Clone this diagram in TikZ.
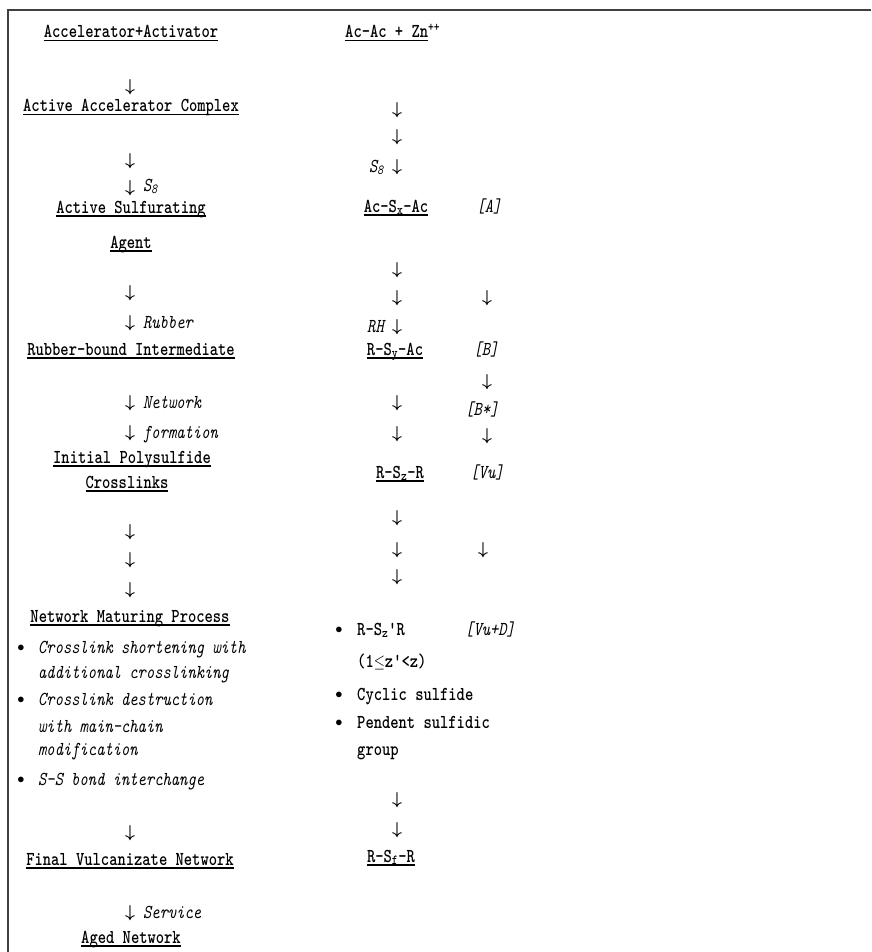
\documentclass[tikz,border=0pt]{standalone}
\newcommand\ulx[1]{\setbox0\hbox{#1}\rlap{\rule[-2.8pt]{\wd0}{1pt}}\box0}
\newsavebox\tallbx
\tikzset{
  tall/.style={execute at begin node={\setbox\tallbx\hbox\bgroup},
               execute at end node={\egroup\scalebox{1}[1.25]{\usebox\tallbx}}},
  txt/.style={inner sep=0pt, anchor=base, tall, font=\fontsize{15.8}{19}\selectfont\ttfamily\bfseries},
  itxt/.style={inner sep=0pt, anchor=base west, tall, font=\fontsize{15.8}{19}\selectfont\ttfamily\itshape},
  ptxt/.style={inner sep=0pt, anchor=base west, tall, font=\fontsize{15.8}{19}\selectfont\ttfamily\bfseries},
  arr/.style={inner sep=0pt, font=\fontsize{17}{19}\selectfont\boldmath},
  bul/.style={inner sep=0pt, font=\fontsize{15.8}{19}\selectfont},
  frame/.style={line width=2pt, black!75}
}
\begin{document}
\begin{tikzpicture}[x=1pt,y=-1pt]
\useasboundingbox (0,0) rectangle (871,952);
\draw[frame] (7.5,952) -- (7.5,10.5) -- (871,10.5);
% ---------- left column ----------
\node[txt] (l1) at (131,38) {\ulx{Accelerator+Activator}};
\node[arr] (la1) at (130,87) {$\downarrow$};
\node[txt] (l2) at (131,112) {\ulx{Active Accelerator Complex}};
\node[arr] (la2) at (130,161) {$\downarrow$};
\node[arr] (la3) at (130,188) {$\downarrow$};
\node[itxt] (ls8) at (143,191) {S\textsubscript{8}};
\node[txt] (l3) at (131,213) {\ulx{Active Sulfurating}};
\node[txt] (l4) at (131,248) {\ulx{Agent}};
\node[arr] (la4) at (130,293) {$\downarrow$};
\node[arr] (la5) at (130,323) {$\downarrow$};
\node[itxt] (lrub) at (143,328) {Rubber};
\node[txt] (l5) at (131,355) {\ulx{Rubber-bound Intermediate}};
\node[arr] (la6) at (130,403) {$\downarrow$};
\node[itxt] (lnet) at (143,408) {Network};
\node[arr] (la7) at (130,433) {$\downarrow$};
\node[itxt] (lform) at (143,438) {formation};
\node[txt] (l6) at (132,463) {\ulx{Initial Polysulfide}};
\node[txt] (l7) at (127,488) {\ulx{Crosslinks}};
\node[arr] (la8) at (130,532) {$\downarrow$};
\node[arr] (la9) at (130,560) {$\downarrow$};
\node[arr] (la10) at (130,590) {$\downarrow$};
\node[txt] (l8) at (130,622) {\ulx{Network Maturing Process}};
\node[bul] (lb1) at (21,648) {$\bullet$};
\node[itxt] (lt1) at (38,653) {Crosslink shortening with};
\node[itxt] (lt2) at (38,678) {additional crosslinking};
\node[bul] (lb2) at (21,700) {$\bullet$};
\node[itxt] (lt3) at (38,705) {Crosslink destruction};
\node[itxt] (lt4) at (38,732) {with main-chain};
\node[itxt] (lt5) at (38,755) {modification};
\node[bul] (lb3) at (21,780) {$\bullet$};
\node[itxt] (lt6) at (38,785) {S-S bond interchange};
\node[arr] (la11) at (130,833) {$\downarrow$};
\node[txt] (l9) at (130,865) {\ulx{Final Vulcanizate Network}};
\node[arr] (la12) at (130,913) {$\downarrow$};
\node[itxt] (lserv) at (143,918) {Service};
\node[txt] (l10) at (131,943) {\ulx{Aged Network}};
% ---------- right column ----------
\node[ptxt] (r1) at (345,38) {\ulx{Ac-Ac + Zn}\textsuperscript{++}};
\node[arr] (ra1) at (397,110) {$\downarrow$};
\node[arr] (ra2) at (397,137) {$\downarrow$};
\node[arr] (ra3) at (397,167) {$\downarrow$};
\node[itxt, anchor=base east] (rs8) at (384,172) {S\textsubscript{8}};
\node[txt] (r2) at (396,212) {\ulx{Ac-S\textsubscript{x}-Ac}};
\node[itxt, anchor=base] (rA) at (489,212) {[A]};
\node[arr] (ra4) at (397,270) {$\downarrow$};
\node[arr] (ra5) at (397,298) {$\downarrow$};
\node[arr] (ra6) at (397,327) {$\downarrow$};
\node[itxt, anchor=base east] (rrh) at (384,332) {RH};
\node[arr] (fr1) at (487,298) {$\downarrow$};
\node[txt] (r3) at (395,355) {\ulx{R-S\textsubscript{y}-Ac}};
\node[itxt, anchor=base] (rB) at (486,355) {[B]};
\node[arr] (fr2) at (487,382) {$\downarrow$};
\node[arr] (ra7) at (397,403) {$\downarrow$};
\node[itxt, anchor=base] (rBs) at (482,415) {[B*]};
\node[arr] (ra8) at (397,434) {$\downarrow$};
\node[arr] (fr3) at (487,436) {$\downarrow$};
\node[txt] (r4) at (400,478) {\ulx{R-S\textsubscript{z}-R}};
\node[itxt, anchor=base] (rVu) at (487,478) {[Vu]};
\node[arr] (ra9) at (397,518) {$\downarrow$};
\node[arr] (ra10) at (397,550) {$\downarrow$};
\node[arr] (ra11) at (397,577) {$\downarrow$};
\node[arr] (fr4) at (483,550) {$\downarrow$};
\node[bul] (rb1) at (339,630) {$\bullet$};
\node[ptxt] (rt1) at (357,635) {R-S\textsubscript{z}'R};
\node[itxt] (rVuD) at (465,635) {[Vu+D]};
\node[ptxt] (rt2) at (357,667) {(1$\le$z'<z)};
\node[bul] (rb2) at (339,695) {$\bullet$};
\node[ptxt] (rt3) at (357,700) {Cyclic sulfide};
\node[bul] (rb3) at (339,723) {$\bullet$};
\node[ptxt] (rt4) at (357,728) {Pendent sulfidic};
\node[ptxt] (rt5) at (357,755) {group};
\node[arr] (ra12) at (397,800) {$\downarrow$};
\node[arr] (ra13) at (397,830) {$\downarrow$};
\node[txt] (r5) at (391,862) {\ulx{R-S\textsubscript{f}-R}};
\end{tikzpicture}
\end{document}
